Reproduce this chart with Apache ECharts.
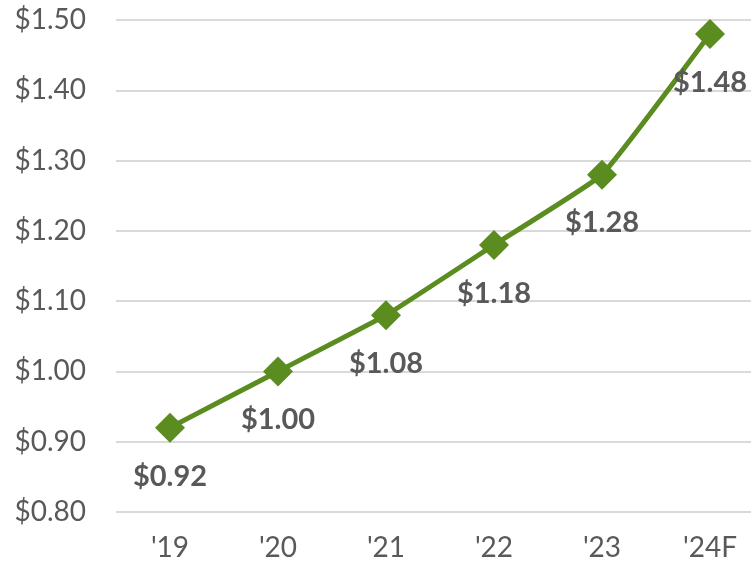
<!DOCTYPE html>
<html>
<head>
<meta charset="utf-8">
<script src="https://cdn.jsdelivr.net/npm/echarts@6/dist/echarts.min.js"></script>
<style>
  html, body { margin: 0; padding: 0; background: #fff; }
  #chart { width: 751px; height: 570px; }
</style>
</head>
<body>
<div id="chart"></div>
<script>
// values
const years = ["'19", "'20", "'21", "'22", "'23", "'24F"];
const prices = [0.92, 1.00, 1.08, 1.18, 1.28, 1.48];

const green = '#5A8C20';
const grey = '#595959';
const font = 'Lato, "Open Sans", sans-serif';

const chart = echarts.init(document.getElementById('chart'));
chart.setOption({
  animation: false,
  grid: {
    left: 116, width: 648, top: 20, bottom: 58,
    containLabel: false, outerBoundsMode: 'none'
  },
  xAxis: {
    type: 'category',
    data: years,
    boundaryGap: true,
    axisLine: { show: false },
    axisTick: { show: false },
    axisLabel: { color: grey, fontSize: 28, fontFamily: font, margin: 22 }
  },
  yAxis: {
    type: 'value',
    min: 0.8,
    max: 1.5,
    interval: 0.1,
    axisLine: { show: false },
    axisTick: { show: false },
    splitLine: { lineStyle: { color: '#D9D9D9', width: 2 } },
    axisLabel: {
      color: grey, fontSize: 28, fontFamily: font, margin: 30,
      formatter: v => '$' + v.toFixed(2)
    }
  },
  series: [{
    type: 'line',
    data: prices,
    smooth: 0.1,
    symbol: 'diamond',
    symbolSize: 30,
    lineStyle: { color: green, width: 5 },
    itemStyle: { color: green },
    label: {
      show: true,
      position: 'bottom',
      distance: 19,
      color: grey,
      fontSize: 29,
      fontWeight: 'bold',
      fontFamily: font,
      formatter: p => '$' + p.value.toFixed(2)
    }
  }]
});
</script>
</body>
</html>
